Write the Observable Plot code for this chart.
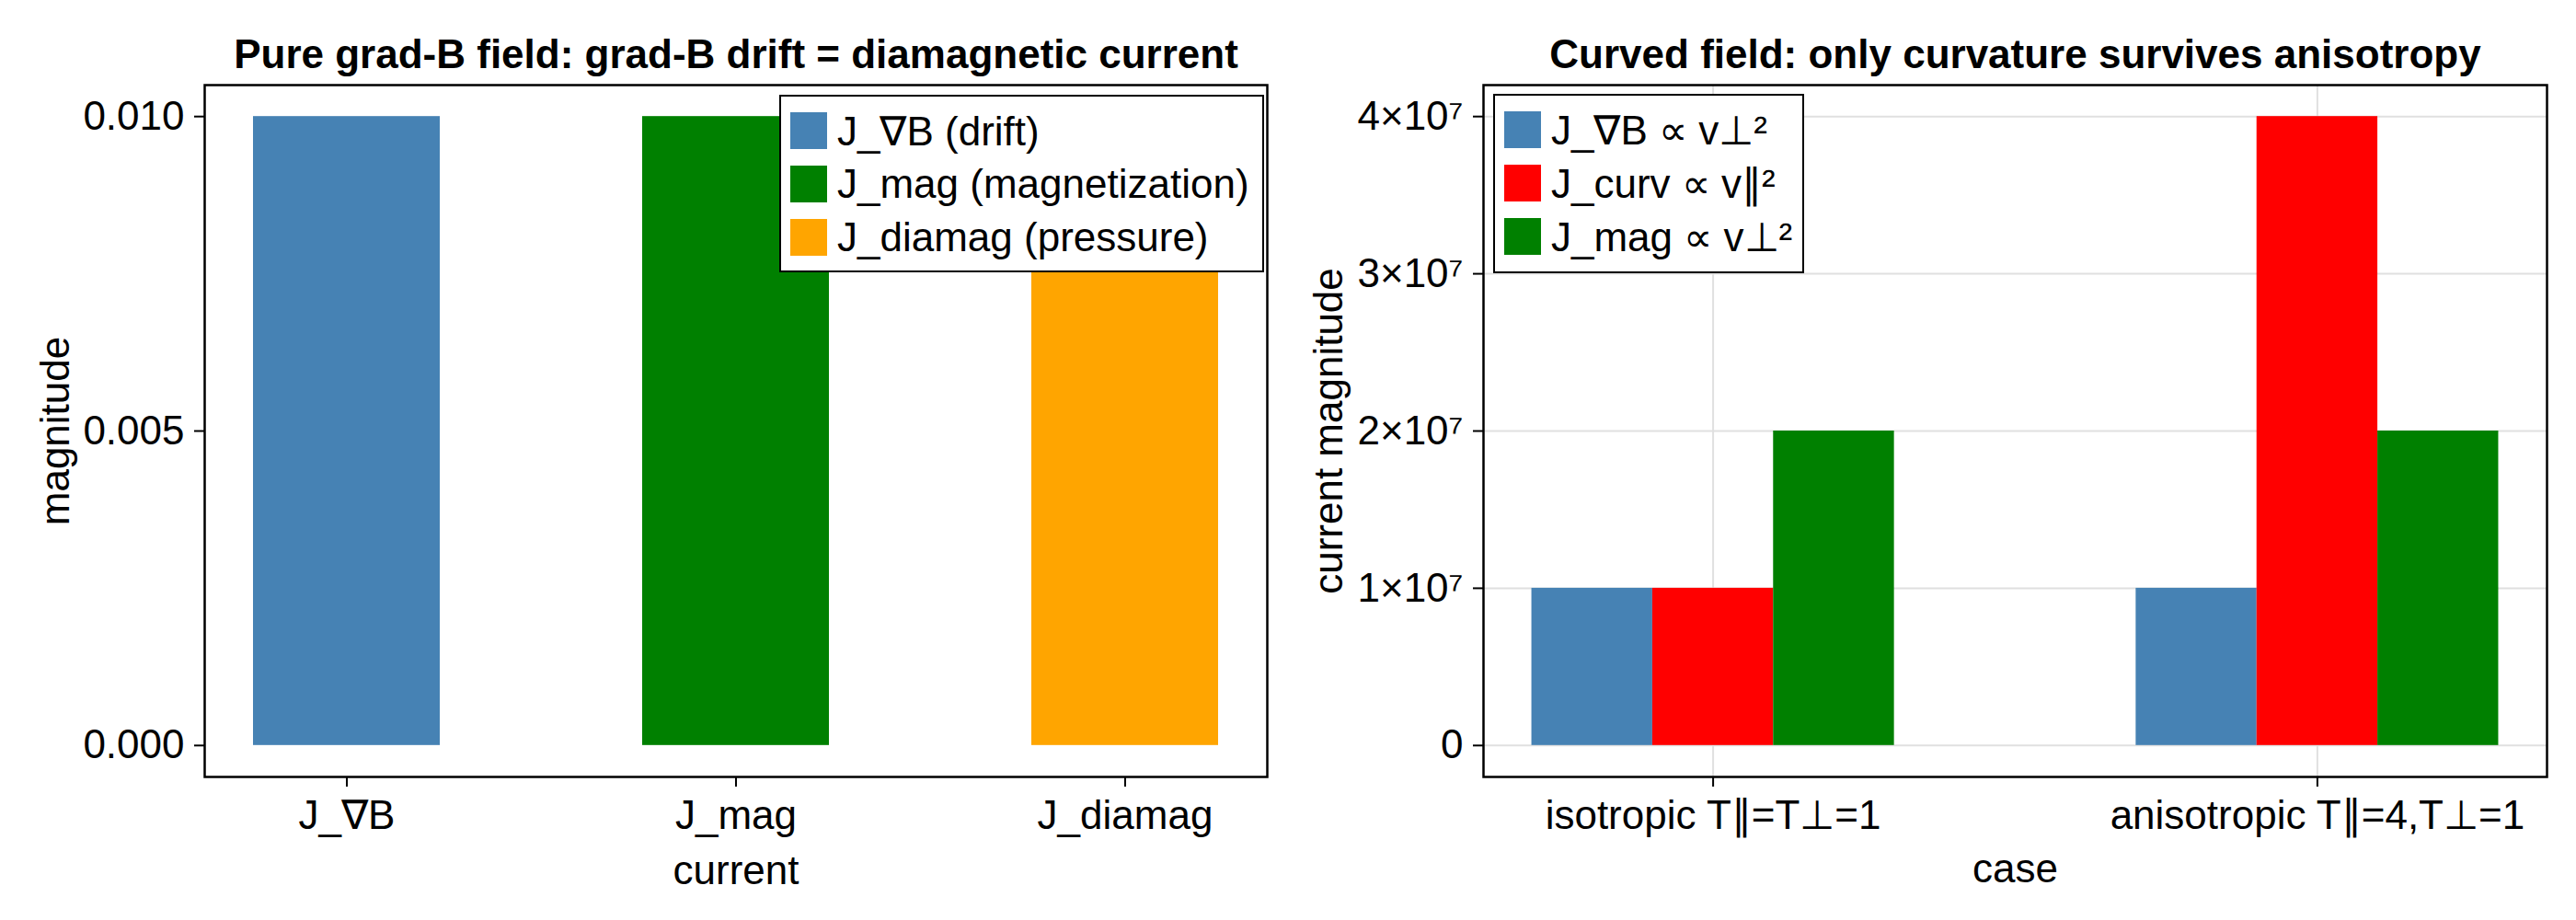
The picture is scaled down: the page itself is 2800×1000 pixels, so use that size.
<!DOCTYPE html>
<html><head><meta charset="utf-8">
<script src="https://cdn.jsdelivr.net/npm/d3@7"></script>
<script src="https://cdn.jsdelivr.net/npm/@observablehq/plot@0.6"></script>
<style>
body{margin:0;background:#fff;}
#wrap{position:relative;width:2800px;height:1000px;font-family:"Liberation Sans",Arial,sans-serif;background:#fff;}
.panel{position:absolute;top:0;}
.legend{position:absolute;background:#fff;border:2.5px solid #000;box-sizing:border-box;font-size:44px;color:#000;}
.row{position:absolute;display:flex;align-items:center;white-space:nowrap;}
.sw{width:40px;height:40px;margin-right:11px;flex:none;}
</style></head><body><div id="wrap"></div>
<script>
// ---- left panel data ----
const leftCategories = ["J_∇B", "J_mag", "J_diamag"];
const leftValues = [0.01, 0.01, 0.01];
const leftColors = ["#4682b4", "#008000", "#ffa500"];
const leftLegendLabels = ["J_∇B (drift)", "J_mag (magnetization)", "J_diamag (pressure)"];
const leftTicks = [0, 0.005, 0.01];
const leftTitle = "Pure grad-B field: grad-B drift = diamagnetic current";
const leftXLabel = "current";
const leftYLabel = "magnitude";

// ---- right panel data ----
const rightCases = ["isotropic T∥=T⊥=1", "anisotropic T∥=4,T⊥=1"];
const rightSeries = ["J_∇B", "J_curv", "J_mag"];
const rightIsotropic = [1e7, 1e7, 2e7];
const rightAnisotropic = [1e7, 4e7, 2e7];
const rightColors = ["#4682b4", "#ff0000", "#008000"];
const rightLegendLabels = ["J_∇B ∝ v⊥²", "J_curv ∝ v∥²", "J_mag ∝ v⊥²"];
const rightTicks = [0, 1e7, 2e7, 3e7, 4e7];
const rightTitle = "Curved field: only curvature survives anisotropy";
const rightXLabel = "case";
const rightYLabel = "current magnitude";

const FS = 44;
const FONT = "Liberation Sans, Arial, sans-serif";
const GRID = "#e0e0e0";
const common = {
  width: 1400, height: 1000, marginTop: 92, marginBottom: 156,
  style: {fontFamily: FONT, fontSize: FS + "px", background: "white", color: "black"}
};
const wrap = document.getElementById("wrap");

// left panel
const leftData = leftCategories.map((c, i) => ({cat: c, value: leftValues[i]}));
const left = Plot.plot({
  ...common, marginLeft: 222, marginRight: 23,
  x: {type: "band", domain: leftCategories, paddingInner: 0.52, paddingOuter: 0.125, axis: null},
  y: {domain: [-0.0005, 0.0105], axis: null},
  color: {domain: leftCategories, range: leftColors},
  marks: [
    Plot.barY(leftData, {x: "cat", y: "value", fill: "cat"}),
    Plot.frame({stroke: "black", strokeWidth: 2.5}),
    Plot.axisY(leftTicks, {tickFormat: d3.format(".3f"), tickSize: 11, tickPadding: 11, strokeWidth: 2, label: null}),
    Plot.axisX({tickSize: 11, tickPadding: 14, strokeWidth: 2, label: null}),
    Plot.text([leftTitle], {text: d => d, frameAnchor: "top", lineAnchor: "bottom", dy: -19, fontWeight: "bold"}),
    Plot.text([leftYLabel], {text: d => d, frameAnchor: "left", textAnchor: "middle", lineAnchor: "middle", dx: -162, rotate: -90}),
    Plot.text([leftXLabel], {text: d => d, frameAnchor: "bottom", lineAnchor: "bottom", dy: 116})
  ]
});
left.classList.add("panel");
left.style.left = "0px";
wrap.appendChild(left);

// right panel: grouped (dodged) bars, case index on a linear axis like the original
const BAR = 0.2; // dodge width per series, in case units
const rightData = [];
rightCases.forEach((c, i) => {
  const vals = i === 0 ? rightIsotropic : rightAnisotropic;
  rightSeries.forEach((s, j) => rightData.push({ci: i, si: j, series: s, value: vals[j]}));
});
const right = Plot.plot({
  ...common, marginLeft: 212, marginRight: 32,
  x: {type: "linear", domain: [-0.38, 1.38], axis: null},
  y: {domain: [-2e6, 4.2e7], axis: null},
  color: {domain: rightSeries, range: rightColors},
  marks: [
    Plot.gridY(rightTicks, {stroke: GRID, strokeOpacity: 1, strokeWidth: 2}),
    Plot.gridX([0, 1], {stroke: GRID, strokeOpacity: 1, strokeWidth: 2}),
    Plot.rectY(rightData, {
      x1: d => d.ci + (d.si - 1.5) * BAR,
      x2: d => d.ci + (d.si - 0.5) * BAR,
      y: "value", fill: "series"
    }),
    Plot.frame({stroke: "black", strokeWidth: 2.5}),
    Plot.axisY(rightTicks, {tickFormat: d => d === 0 ? "0" : `${d / 1e7}×10⁷`, tickSize: 11, tickPadding: 11, strokeWidth: 2, label: null}),
    Plot.axisX([0, 1], {tickFormat: i => rightCases[i], tickSize: 11, tickPadding: 14, strokeWidth: 2, label: null}),
    Plot.text([rightTitle], {text: d => d, frameAnchor: "top", lineAnchor: "bottom", dy: -19, fontWeight: "bold"}),
    Plot.text([rightYLabel], {text: d => d, frameAnchor: "left", textAnchor: "middle", lineAnchor: "middle", dx: -168, rotate: -90}),
    Plot.text([rightXLabel], {text: d => d, frameAnchor: "bottom", lineAnchor: "bottom", dy: 114})
  ]
});
right.classList.add("panel");
right.style.left = "1400px";
wrap.appendChild(right);

// legends
function legend(labels, colors, box, swX) {
  const div = document.createElement("div");
  div.className = "legend";
  div.style.left = box[0] + "px"; div.style.top = box[1] + "px";
  div.style.width = box[2] + "px"; div.style.height = box[3] + "px";
  labels.forEach((lab, i) => {
    const row = document.createElement("div");
    row.className = "row";
    row.style.left = swX + "px";
    row.style.top = (17 + i * 58) + "px";
    row.style.height = "40px";
    const sw = document.createElement("div");
    sw.className = "sw"; sw.style.background = colors[i];
    const t = document.createElement("span");
    t.textContent = lab;
    row.appendChild(sw); row.appendChild(t);
    div.appendChild(row);
  });
  wrap.appendChild(div);
}
legend(leftLegendLabels, leftColors, [847, 103, 527, 193], 10);
legend(rightLegendLabels, rightColors, [1623, 102, 338, 195], 10);
</script></body></html>
